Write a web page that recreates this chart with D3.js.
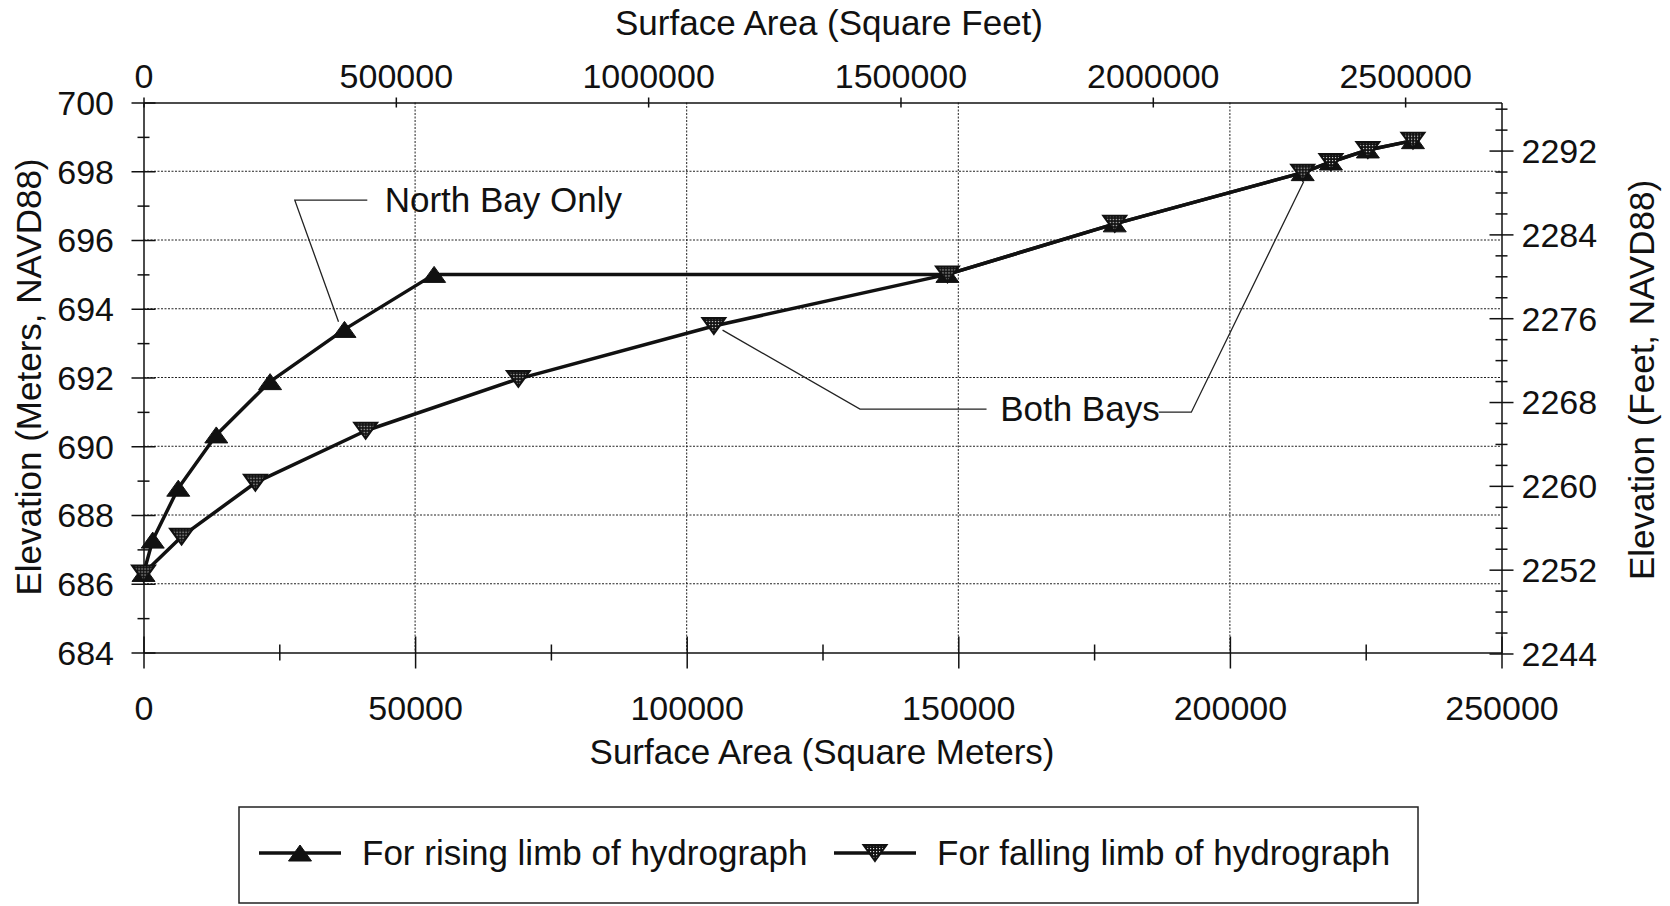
<!DOCTYPE html>
<html>
<head>
<meta charset="utf-8">
<script src="https://cdn.jsdelivr.net/npm/d3@7"></script>
<style>
  body { margin: 0; background: #fff; }
  text { font-family: "Liberation Sans", Arial, sans-serif; fill: #111; }
</style>
</head>
<body>
<div id="chart"></div>
<script>
// surface area (m²) vs elevation (m)
const risingArea = [0, 1700, 6400, 13400, 23300, 37000, 53500, 148000, 178800, 213400, 218600, 225400, 233700];
const risingElev = [686.3, 687.27, 688.78, 690.33, 691.88, 693.4, 695.0, 695.0, 696.47, 697.96, 698.27, 698.62, 698.89];
const fallingArea = [0, 7000, 20600, 40900, 69000, 105000, 148000, 178800, 213400, 218600, 225400, 233700];
const fallingElev = [686.3, 687.37, 688.94, 690.45, 691.96, 693.5, 695.0, 696.47, 697.96, 698.27, 698.62, 698.89];

const bottomTicks = [0, 50000, 100000, 150000, 200000, 250000];
const bottomMinor = [25000, 75000, 125000, 175000, 225000];
const topTicks = [0, 500000, 1000000, 1500000, 2000000, 2500000];
const leftTicks = [684, 686, 688, 690, 692, 694, 696, 698, 700];
const leftMinor = [685, 687, 689, 691, 693, 695, 697, 699];
const rightTicks = [2244, 2252, 2260, 2268, 2276, 2284, 2292];
const rightMinor = [2246, 2248, 2250, 2254, 2256, 2258, 2262, 2264, 2266, 2270, 2272, 2274,
                    2278, 2280, 2282, 2286, 2288, 2290, 2294, 2296];
const gridX = [50000, 100000, 150000, 200000];
const gridY = [686, 688, 690, 692, 694, 696, 698];

// callouts: [area, elevation] points
const northBayLeader = [[41200, 697.16], [27850, 697.16], [35900, 693.62]];
const bothBaysLeft = [[155200, 691.08], [131900, 691.08], [106600, 693.38]];
const bothBaysRight = [[186900, 690.99], [192900, 690.99], [213600, 697.7]];

const SQFT = 10.7639, FT = 3.28084;
const W = 1670, H = 906;

const x = d3.scaleLinear().domain([0, 250000]).range([143.5, 1501.5]);
const y = d3.scaleLinear().domain([684, 700]).range([652.5, 102.5]);
const xFt = d3.scaleLinear().domain([0, 250000 * SQFT]).range(x.range());
const yFt = d3.scaleLinear().domain([684 * FT, 700 * FT]).range(y.range());

const svg = d3.select("#chart").append("svg")
    .attr("width", W).attr("height", H)
    .style("background", "#fff");

const defs = svg.append("defs");
const pat = defs.append("pattern").attr("id", "stip")
    .attr("width", 3).attr("height", 3).attr("patternUnits", "userSpaceOnUse");
pat.append("rect").attr("width", 3).attr("height", 3).attr("fill", "#111");
pat.append("rect").attr("x", 1).attr("y", 1).attr("width", 1.2).attr("height", 1.2).attr("fill", "#ddd");

// grid
svg.append("g").selectAll("line").data(gridX).join("line")
    .attr("x1", d => x(d)).attr("x2", d => x(d))
    .attr("y1", y(700)).attr("y2", y(684))
    .attr("stroke", "#222").attr("stroke-width", 1).attr("stroke-dasharray", "2,1.5");
svg.append("g").selectAll("line").data(gridY).join("line")
    .attr("x1", x(0)).attr("x2", x(250000))
    .attr("y1", d => y(d)).attr("y2", d => y(d))
    .attr("stroke", "#222").attr("stroke-width", 1).attr("stroke-dasharray", "2,1.5");

function styleAxis(g) {
    g.attr("font-family", null).attr("font-size", null);
    g.selectAll("path, line").attr("stroke", "#111").attr("stroke-width", 1.5);
    g.selectAll("text").style("font-size", "34px").attr("fill", "#111");
}

// bottom (m²)
const gB = svg.append("g").attr("transform", `translate(0,${y(684)})`)
    .call(d3.axisBottom(x).tickValues(bottomTicks).tickSizeInner(16).tickSizeOuter(0).tickFormat(d3.format("d")));
styleAxis(gB);
gB.selectAll(".tick line").attr("y1", -16);
gB.selectAll("text").attr("y", 67.5).attr("dy", 0);
const gBm = svg.append("g").attr("transform", `translate(0,${y(684)})`)
    .call(d3.axisBottom(x).tickValues(bottomMinor).tickSizeInner(8).tickSizeOuter(0).tickFormat(""));
gBm.select(".domain").remove();
styleAxis(gBm);
gBm.selectAll(".tick line").attr("y1", -8);

// top (ft²)
const gT = svg.append("g").attr("transform", `translate(0,${y(700)})`)
    .call(d3.axisTop(xFt).tickValues(topTicks).tickSizeInner(5).tickSizeOuter(0).tickFormat(d3.format("d")));
styleAxis(gT);
gT.selectAll(".tick line").attr("y1", 5);
gT.selectAll("text").attr("y", -14.5).attr("dy", 0);

// left (m)
const gL = svg.append("g").attr("transform", `translate(${x(0)},0)`)
    .call(d3.axisLeft(y).tickValues(leftTicks).tickSizeInner(12).tickSizeOuter(0).tickPadding(17.5).tickFormat(d3.format("d")));
styleAxis(gL);
gL.selectAll(".tick line").attr("x1", 12);
gL.selectAll("text").attr("dy", "0.35em");
const gLm = svg.append("g").attr("transform", `translate(${x(0)},0)`)
    .call(d3.axisLeft(y).tickValues(leftMinor).tickSizeInner(6).tickSizeOuter(0).tickFormat(""));
gLm.select(".domain").remove();
styleAxis(gLm);
gLm.selectAll(".tick line").attr("x1", 6);

// right (ft)
const gR = svg.append("g").attr("transform", `translate(${x(250000)},0)`)
    .call(d3.axisRight(yFt).tickValues(rightTicks).tickSizeInner(12).tickSizeOuter(0).tickPadding(8).tickFormat(d3.format("d")));
styleAxis(gR);
gR.selectAll(".tick line").attr("x1", -12);
gR.selectAll("text").attr("dy", "0.35em");
const gRm = svg.append("g").attr("transform", `translate(${x(250000)},0)`)
    .call(d3.axisRight(yFt).tickValues(rightMinor).tickSizeInner(6).tickSizeOuter(0).tickFormat(""));
gRm.select(".domain").remove();
styleAxis(gRm);
gRm.selectAll(".tick line").attr("x1", -6);

// titles
svg.append("text").attr("x", 829).attr("y", 35).attr("text-anchor", "middle")
    .style("font-size", "35px").text("Surface Area (Square Feet)");
svg.append("text").attr("x", 822).attr("y", 764).attr("text-anchor", "middle")
    .style("font-size", "35px").text("Surface Area (Square Meters)");
svg.append("text").attr("transform", "translate(41,377) rotate(-90)").attr("text-anchor", "middle")
    .style("font-size", "35px").text("Elevation (Meters, NAVD88)");
svg.append("text").attr("transform", "translate(1654,380) rotate(-90)").attr("text-anchor", "middle")
    .style("font-size", "35px").text("Elevation (Feet, NAVD88)");

// callouts
const lead = d3.line().x(d => x(d[0])).y(d => y(d[1]));
[northBayLeader, bothBaysLeft, bothBaysRight].forEach(pts => {
    svg.append("path").attr("d", lead(pts))
        .attr("fill", "none").attr("stroke", "#222").attr("stroke-width", 1.3);
});
svg.append("text").attr("x", x(44400)).attr("y", y(697.16)).attr("dy", "0.35em")
    .style("font-size", "35px").text("North Bay Only");
svg.append("text").attr("x", x(157700)).attr("y", y(691.08)).attr("dy", "0.35em")
    .style("font-size", "35px").text("Both Bays");

// series
const rising = risingArea.map((a, i) => ({ a: a, e: risingElev[i] }));
const falling = fallingArea.map((a, i) => ({ a: a, e: fallingElev[i] }));
const line = d3.line().x(d => x(d.a)).y(d => y(d.e));

svg.append("path").datum(rising).attr("d", line)
    .attr("fill", "none").attr("stroke", "#111").attr("stroke-width", 3.5).attr("stroke-linejoin", "round");
svg.append("path").datum(falling).attr("d", line)
    .attr("fill", "none").attr("stroke", "#111").attr("stroke-width", 3.5).attr("stroke-linejoin", "round");

const upTri = "M0,-8L11.5,8L-11.5,8Z";
const downTri = "M0,8L11.5,-8L-11.5,-8Z";

svg.append("g").selectAll("path").data(rising).join("path")
    .attr("d", upTri)
    .attr("transform", d => `translate(${x(d.a)},${y(d.e)})`)
    .attr("fill", "#111").attr("stroke", "#111").attr("stroke-width", 1);
svg.append("g").selectAll("path").data(falling).join("path")
    .attr("d", downTri)
    .attr("transform", d => `translate(${x(d.a)},${y(d.e)})`)
    .attr("fill", "url(#stip)").attr("stroke", "#111").attr("stroke-width", 2);

// legend
const leg = svg.append("g");
leg.append("rect").attr("x", 239).attr("y", 807).attr("width", 1179).attr("height", 96)
    .attr("fill", "#fff").attr("stroke", "#222").attr("stroke-width", 1.5);
const legendItems = [
    { label: "For rising limb of hydrograph", x0: 259, shape: upTri, fill: "#111", sw: 1 },
    { label: "For falling limb of hydrograph", x0: 834, shape: downTri, fill: "url(#stip)", sw: 2 }
];
legendItems.forEach(it => {
    leg.append("line").attr("x1", it.x0).attr("x2", it.x0 + 82).attr("y1", 853).attr("y2", 853)
        .attr("stroke", "#111").attr("stroke-width", 3.5);
    leg.append("path").attr("d", it.shape).attr("transform", `translate(${it.x0 + 41},853)`)
        .attr("fill", it.fill).attr("stroke", "#111").attr("stroke-width", it.sw);
    leg.append("text").attr("x", it.x0 + 103).attr("y", 853).attr("dy", "0.35em")
        .style("font-size", "35px").text(it.label);
});
</script>
</body>
</html>
